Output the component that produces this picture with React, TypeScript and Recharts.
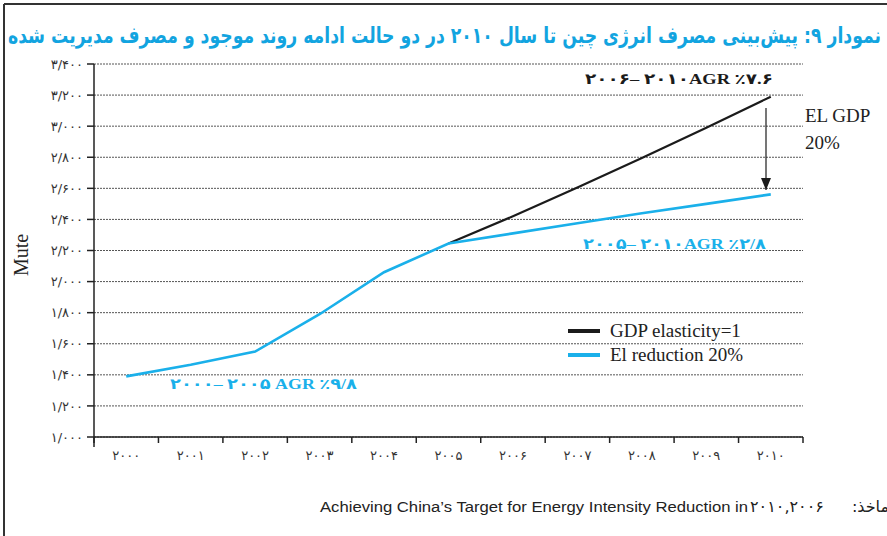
import { LineChart, Line, XAxis, YAxis, CartesianGrid } from "recharts";

const years = ["۲۰۰۰", "۲۰۰۱", "۲۰۰۲", "۲۰۰۳", "۲۰۰۴", "۲۰۰۵", "۲۰۰۶", "۲۰۰۷", "۲۰۰۸", "۲۰۰۹", "۲۰۱۰"];
const gdpElasticity = [null, null, null, null, null, 2245, 2420, 2605, 2795, 2990, 3190];
const elReduction = [1390, 1465, 1550, 1790, 2060, 2245, 2310, 2375, 2440, 2500, 2561];
const yTicks = [1000, 1200, 1400, 1600, 1800, 2000, 2200, 2400, 2600, 2800, 3000, 3200, 3400];
const yTickLabels = ["۱/۰۰۰", "۱/۲۰۰", "۱/۴۰۰", "۱/۶۰۰", "۱/۸۰۰", "۲/۰۰۰", "۲/۲۰۰", "۲/۴۰۰", "۲/۶۰۰", "۲/۸۰۰", "۳/۰۰۰", "۳/۲۰۰", "۳/۴۰۰"];

const data = years.map((year, i) => ({ year, gdp: gdpElasticity[i], el: elReduction[i] }));

const W = 887;
const H = 536;
const PLOT_LEFT = 94;
const PLOT_RIGHT = 803;
const PLOT_TOP = 64;
const PLOT_BOTTOM = 437;
const HALF_BAND = (PLOT_RIGHT - PLOT_LEFT) / years.length / 2;

const BLUE = "#1ab0ea";
const BLACK = "#1b1b1b";
const AXIS = "#222";

function XTick(props: any) {
  const { x, y, payload } = props;
  const last = payload.value === years[years.length - 1];
  return (
    <g>
      <line x1={x - HALF_BAND} x2={x - HALF_BAND} y1={y} y2={y + 6} stroke={AXIS} strokeWidth={1.5} />
      {last && <line x1={x + HALF_BAND} x2={x + HALF_BAND} y1={y} y2={y + 6} stroke={AXIS} strokeWidth={1.5} />}
      <text x={x} y={y + 23} textAnchor="middle" fontSize={13} fill="#333" fontFamily="DejaVu Sans" style={{ direction: "ltr", unicodeBidi: "bidi-override" }}>
        {payload.value}
      </text>
    </g>
  );
}

const legendItems = [
  { label: "GDP elasticity=1", color: BLACK },
  { label: "El reduction 20%", color: BLUE },
];

const ltr = { direction: "ltr" as const, unicodeBidi: "bidi-override" as const };

export default function App() {
  return (
    <div style={{ position: "absolute", left: 0, top: 0, width: W, height: H, background: "#fff", overflow: "hidden" }}>
      <LineChart
        width={W}
        height={H}
        data={data}
        margin={{ top: PLOT_TOP, right: W - PLOT_RIGHT, bottom: H - PLOT_BOTTOM - 30, left: 0 }}
        style={{ position: "absolute", left: 0, top: 0 }}
      >
        <CartesianGrid horizontal vertical={false} stroke="#555" strokeDasharray="2 1" />
        <XAxis
          dataKey="year"
          height={30}
          padding={{ left: HALF_BAND, right: HALF_BAND }}
          tickLine={false}
          tickMargin={0}
          tickSize={0}
          axisLine={{ stroke: AXIS, strokeWidth: 1.5 }}
          tick={<XTick />}
          interval={0}
        />
        <YAxis
          width={PLOT_LEFT}
          domain={[1000, 3400]}
          ticks={yTicks}
          interval={0}
          tickSize={7}
          tickMargin={4}
          tickLine={{ stroke: AXIS, strokeWidth: 1.5 }}
          axisLine={{ stroke: AXIS, strokeWidth: 1.5 }}
          tickFormatter={(v: number) => yTickLabels[yTicks.indexOf(v)]}
          tick={{ fontSize: 13, fill: "#333", fontFamily: "DejaVu Sans" }}
        />
        <Line dataKey="gdp" stroke={BLACK} strokeWidth={2.2} dot={false} isAnimationActive={false} connectNulls={false} />
        <Line dataKey="el" stroke={BLUE} strokeWidth={2.6} dot={false} isAnimationActive={false} />
      </LineChart>

      <div style={{ position: "absolute", left: 568, top: 319, fontFamily: "Liberation Serif", fontSize: 19, color: "#222", lineHeight: "24px" }}>
        {legendItems.map((it) => (
          <div key={it.label} style={{ display: "flex", alignItems: "center" }}>
            <span style={{ display: "inline-block", width: 32, height: 4, background: it.color, marginRight: 10 }} />
            {it.label}
          </div>
        ))}
      </div>

      <svg width={W} height={H} style={{ position: "absolute", left: 0, top: 0, pointerEvents: "none" }}>
        <line x1={4} y1={4} x2={W} y2={4} stroke="#333" strokeWidth={2} />
        <line x1={4} y1={4} x2={4} y2={H} stroke="#333" strokeWidth={2} />
        <text
          x={881}
          y={43}
          fontSize={22}
          fontWeight="bold"
          fill="#12a4e0"
          fontFamily="DejaVu Sans"
          direction="rtl"
          textAnchor="start"
          textLength={873}
          lengthAdjust="spacingAndGlyphs"
        >
          نمودار ۹: پیش‌بینی مصرف انرژی چین تا سال ۲۰۱۰ در دو حالت ادامه روند موجود و مصرف مدیریت شده
        </text>
        <line x1={PLOT_LEFT} x2={PLOT_LEFT} y1={PLOT_BOTTOM} y2={PLOT_BOTTOM + 10} stroke={AXIS} strokeWidth={1.5} />
        <text x={28} y={255} transform="rotate(-90 28 255)" textAnchor="middle" fontSize={20} fontFamily="Liberation Serif" fill="#222">
          Mute
        </text>

        <text x={585} y={84} fontSize={15} fontWeight="bold" fill={BLACK} fontFamily="Liberation Serif, DejaVu Sans" textLength={188} lengthAdjust="spacingAndGlyphs" style={ltr}>
          ۲۰۰۶– ۲۰۱۰AGR ٪۷.۶
        </text>
        <text x={583} y={249} fontSize={15} fontWeight="bold" fill={BLUE} fontFamily="Liberation Serif, DejaVu Sans" textLength={183} lengthAdjust="spacingAndGlyphs" style={ltr}>
          ۲۰۰۵– ۲۰۱۰AGR ٪۲/۸
        </text>
        <text x={170} y={389} fontSize={15} fontWeight="bold" fill={BLUE} fontFamily="Liberation Serif, DejaVu Sans" textLength={187} lengthAdjust="spacingAndGlyphs" style={ltr}>
          ۲۰۰۰– ۲۰۰۵ AGR ٪۹/۸
        </text>

        <defs>
          <marker id="arrowHead" markerWidth={10} markerHeight={12} refX={5} refY={12} orient="0" markerUnits="userSpaceOnUse">
            <path d="M0,0 L10,0 L5,12 Z" fill={BLACK} />
          </marker>
        </defs>
        <line x1={766} y1={108} x2={766} y2={190} stroke={BLACK} strokeWidth={1.2} markerEnd="url(#arrowHead)" />
        <text x={805} y={122} fontSize={19} fontFamily="Liberation Serif" fill="#222">EL GDP</text>
        <text x={805} y={149} fontSize={19} fontFamily="Liberation Serif" fill="#222">20%</text>

        <text x={320} y={512} fontSize={14} fontFamily="Liberation Sans" fill="#222" textLength={428} lengthAdjust="spacingAndGlyphs">
          Achieving China’s Target for Energy Intensity Reduction in
        </text>
        <text x={750} y={512} fontSize={16} fontFamily="DejaVu Sans" fill="#222" style={ltr}>
          ۲۰۱۰,۲۰۰۶
        </text>
        <text x={889} y={512} fontSize={16} fontFamily="DejaVu Sans" fill="#222" direction="rtl" textAnchor="start">
          ماخذ:
        </text>
      </svg>
    </div>
  );
}
